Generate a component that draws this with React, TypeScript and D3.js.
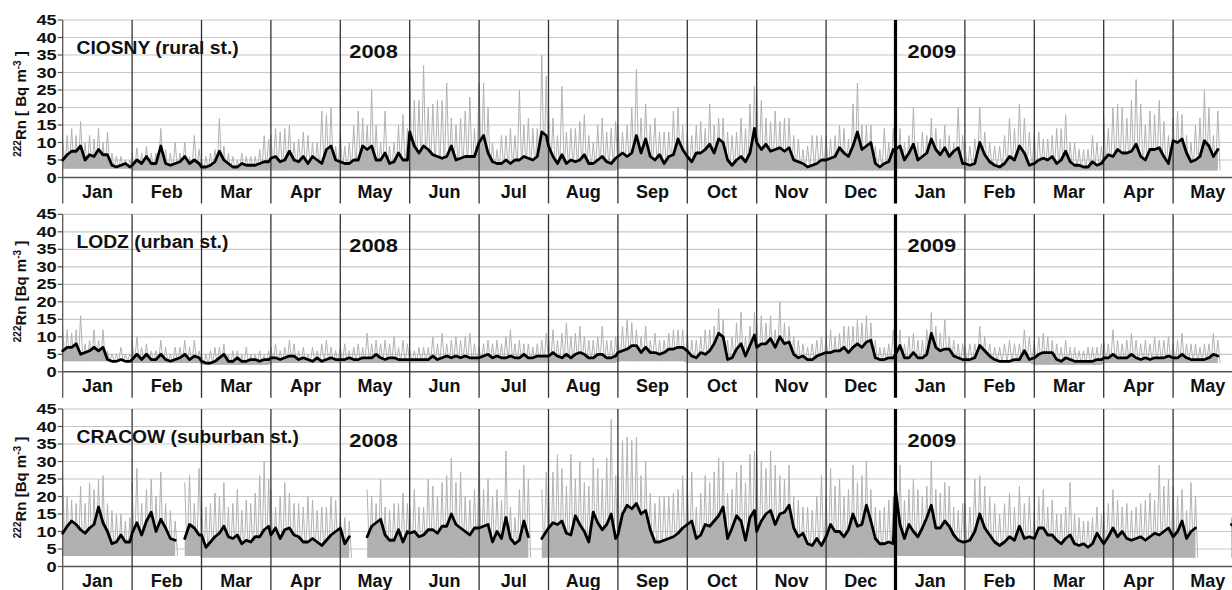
import React from 'react';
import * as d3 from 'd3';

type N = number | null;

// ---------- labels ----------
const monthLabels = ['Jan', 'Feb', 'Mar', 'Apr', 'May', 'Jun', 'Jul', 'Aug', 'Sep', 'Oct', 'Nov', 'Dec', 'Jan', 'Feb', 'Mar', 'Apr', 'May'];
const yTicks = [0, 5, 10, 15, 20, 25, 30, 35, 40, 45];
const stationNames = ['CIOSNY (rural st.)', 'LODZ (urban st.)', 'CRACOW (suburban st.)'];
const yearLabels = ['2008', '2009'];

// ---------- data: one row per month (Jan 2008 .. May 2009), samples every 2nd day (1,3,5,...) ----------
// CIOSNY daily mean (black) and hourly maxima (grey)
const ciosnyMean: N[][] = [
  [5, 6.5, 7.5, 7.5, 9, 5, 6.5, 6, 8, 6.5, 6.5, 3.5, 3, 3.5, 4, 3],
  [3.5, 5, 4, 6, 4, 4, 9, 4, 3.5, 4, 4.5, 6, 4, 5, 4],
  [3, 3, 3.5, 4.5, 7.5, 5, 4, 3, 3, 4, 3.5, 3.5, 3.5, 4, 4.5, 4.5],
  [5.5, 6, 4.5, 5, 7.5, 5, 4.5, 6, 4, 6, 5, 4, 8, 9, 5],
  [4.5, 4, 4, 5, 5, 9, 8, 9, 5, 5, 7, 4, 4.5, 7, 5, 5],
  [13, 9, 7, 9, 8, 6.5, 6, 5.5, 6, 9, 5, 5.5, 6, 6, 6],
  [10, 12, 7, 4.5, 4, 4, 5, 4, 5, 5, 6, 5.5, 5, 6, 13, 12],
  [9, 6, 4, 6.5, 4, 5, 4.5, 5, 6.5, 4, 4, 5, 6, 4.5, 4, 5.5],
  [6, 7, 6, 7, 12, 7, 11, 6, 5, 6.5, 4, 6, 6.5, 11, 8],
  [6, 4.5, 7, 7, 8, 9.5, 7, 11, 10, 5, 3.5, 5, 6, 4.5, 7, 14],
  [10, 8, 9.5, 7.5, 8, 8.5, 7.5, 8.5, 5, 4.5, 4, 3, 3.5, 4, 5],
  [5, 5.5, 6, 8.5, 7, 6, 9, 13, 8, 9, 10, 4, 3, 4, 4.5, 8],
  [8, 9, 5, 7, 9.5, 5, 6, 7, 11, 8, 6.5, 8.5, 6, 7.5, 8.5, 4],
  [4, 3.5, 4, 10, 6.5, 4.5, 3.5, 3, 4, 6, 5, 9, 7, 3.5],
  [4, 5, 5.5, 5, 6, 4, 5, 7.5, 4.5, 3.5, 3.5, 3, 3, 4.5, 3.5, 4],
  [5, 6.5, 6, 8, 7, 7, 7.5, 9.5, 6, 5, 8, 8, 8.5, 6, 4],
  [10.5, 10, 11, 7, 4.5, 5, 6, 10.5, 9, 6, 8],
];
const ciosnyMax: N[][] = [
  [11, 12, 14, 12, 16, 10, 12, 11, 14, 10, 13, 7, 6, 6, 5, 5],
  [7, 8.5, 7, 9, 7, 7, 14, 8, 7, 10, 7, 10, 6, 12, 8],
  [5, 6, 7, 8, 17, 9, 7, 6, 5, 7, 6, 6, 6, 8, 12, 11],
  [12, 14, 13, 14, 15, 10, 11, 13, 12, 10, 10, 19, 18, 20, 9],
  [13, 9, 10, 15, 19, 17, 15, 25, 15, 10, 19, 9, 10, 15, 18, 14],
  [31, 22, 22, 32, 20, 21, 22, 22, 27, 17, 15, 17, 19, 23, 14],
  [27, 27, 20, 10, 8, 12, 12, 14, 12, 25, 15, 17, 14, 14, 35, 29],
  [20, 17, 12, 26, 13, 14, 14, 16, 18, 12, 10, 15, 17, 13, 14, 16],
  [15, 13, 15, 20, 31, 17, 21, 15, 17, 13, 13, 13, 19, 20, 15],
  [13, 12, 15, 16, 14, 21, 15, 17, 17, 13, 12, 13, 17, 14, 21, 26],
  [25, 22, 17, 16, 19, 16, 17, 17, 12, 11, 8, 9, 12, 12, 12],
  [12, 11, 12, 15, 14, 11, 21, 27, 15, 15, 15, 9, 8, 14, 10, 14],
  [15, 14, 10, 12, 20, 10, 13, 12, 17, 14, 11, 15, 12, 10, 20, 12],
  [10, 9, 11, 20, 13, 10, 9, 9, 12, 17, 14, 21, 17, 13],
  [12, 13, 11, 11, 12, 14, 14, 18, 10, 10, 8, 8, 8, 12, 10, 9],
  [17, 14, 20, 21, 20, 17, 22, 28, 21, 15, 19, 18, 22, 16, 12],
  [17, 19, 18, 12, 10, 15, 17, 25, 20, 12, 19],
];
const ciosnyLow = [2.5, 2, 2, 2, 2, 2, 2, 2, 2.5, 2, 2, 2, 2.5, 2, 2, 2, 2];

// LODZ
const lodzMean: N[][] = [
  [6, 7, 7, 8, 5, 5.5, 6, 7, 6, 7, 3.5, 3, 3, 3.5, 3, 3],
  [3.5, 5, 3.5, 5, 3.5, 3.5, 5, 3.5, 3, 3.5, 4, 5, 3.5, 4.5, 4],
  [3, 2.5, 2.5, 3, 4, 5, 3, 3, 4, 3, 3, 3.5, 3.5, 3, 3.5, 3.5],
  [4, 4, 3.5, 4, 4.5, 4.5, 3.5, 4, 3.5, 3, 4, 3, 3.5, 4, 3.5],
  [3.5, 3.5, 4, 3.5, 3.5, 4, 4, 4, 5, 4, 3.5, 4, 4, 3.5, 3.5, 3.5],
  [3.5, 3.5, 3.5, 3.5, 3.5, 4.5, 3.5, 4, 4.5, 4, 4.5, 4, 4.5, 4, 4],
  [4, 4.5, 5, 4, 4.5, 4, 4, 4.5, 4, 4, 5, 4, 4, 4.5, 4.5, 4.5],
  [4.5, 5.5, 4.5, 4, 5, 4, 5, 5.5, 5, 4, 4, 5, 5, 4, 4, 4.5],
  [5.5, 6, 6.5, 7.5, 7.5, 5.5, 7, 5.5, 5.5, 5, 5.5, 6.5, 6.5, 7, 7],
  [6, 4.5, 4, 5.5, 5, 6, 8, 11, 10, 3.5, 4, 6.5, 8, 4.5, 7.5, 10.5],
  [7, 8, 8, 9.5, 7, 10, 8, 8.5, 5, 4, 4.5, 3.5, 3.5, 4.5, 5],
  [5.5, 5.5, 6, 6, 7, 5.5, 7, 8, 7, 8.5, 9, 4, 3.5, 3.5, 4, 4],
  [5, 7.5, 4, 4, 5.5, 4, 4, 5, 11, 7, 6, 6.5, 6.5, 4.5, 4, 3.5],
  [3.5, 3.5, 4, 7.5, 6, 4.5, 3.5, 3, 3, 3, 3.5, 3.5, 6, 3.5],
  [4, 5, 5.5, 5.5, 5.5, 3.5, 3, 4, 3.5, 3, 3, 3, 3, 3, 3.5, 3.5],
  [4, 4, 5, 4, 4, 4, 5, 4, 3.5, 4, 3.5, 4, 4, 4, 4.5],
  [4, 4, 5, 4, 3.5, 3.5, 3.5, 3.5, 4, 5, 4.5],
];
const lodzMax: N[][] = [
  [12, 12, 11, 12, 16, 8, 9, 12, 9, 12, 6, 5, 5, 7, 5, 5],
  [9, 10, 7, 8, 6, 6, 9, 7, 5, 7, 7, 9, 7, 9, 6],
  [5, 5, 6, 7, 7, 8, 5, 6, 6, 5, 7, 5, 5, 6, 5, 6],
  [7, 8, 6, 7, 9, 8, 6, 7, 5, 7, 6, 8, 9, 7, 6],
  [7, 8, 6, 7, 8, 7, 11, 8, 9, 8, 9, 8, 10, 7, 9, 8],
  [6, 6, 7, 7, 7, 10, 8, 11, 8, 9, 10, 9, 10, 11, 8],
  [7, 8, 9, 8, 9, 8, 10, 12, 8, 9, 8, 8, 7, 8, 9, 11],
  [10, 12, 9, 11, 14, 10, 11, 13, 10, 9, 9, 10, 13, 9, 9, 10],
  [10, 13, 15, 14, 12, 10, 13, 9, 11, 9, 9, 11, 12, 12, 12],
  [11, 9, 9, 10, 12, 12, 13, 18, 15, 9, 10, 14, 17, 10, 13, 17],
  [13, 16, 14, 16, 12, 20, 14, 13, 10, 9, 8, 7, 8, 9, 10],
  [10, 12, 10, 11, 13, 13, 13, 15, 14, 16, 14, 9, 7, 7, 8, 12],
  [13, 12, 8, 10, 11, 9, 9, 12, 17, 13, 11, 15, 10, 9, 8, 8],
  [7, 8, 8, 13, 10, 8, 7, 7, 8, 9, 8, 8, 12, 10],
  [9, 10, 11, 10, 9, 8, 7, 9, 7, 7, 6, 6, 7, 7, 7, 8],
  [9, 8, 12, 9, 8, 9, 11, 9, 8, 9, 8, 10, 9, 9, 10],
  [8, 9, 11, 8, 8, 8, 7, 8, 8, 11, 9],
];
const lodzLow = [3, 2.5, 2, 2.5, 2.5, 2.5, 2.5, 2.5, 3, 2.5, 2.5, 2.5, 2.5, 2.5, 2, 2.5, 2.5];

// CRACOW (gaps = missing data)
const cracowMean: N[][] = [
  [9.5, 11.5, 13, 12, 10.5, 9.5, 11, 12, 17, 12.5, 10, 6.5, 7, 9, 7, 7],
  [9.5, 12.5, 9, 13, 15.5, 10, 13.5, 11, 8, 7.5, null, 8, 12, 11, 9],
  [9, 5.5, 7, 8.5, 9.5, 11.5, 8.5, 8, 9, 6.5, 7.5, 7, 8.5, 8.5, 10.5, 11.5],
  [9, 11, 8, 10.5, 11, 9, 8.5, 7, 7, 8, 7, 6, 7.5, 9, 10],
  [11, 6.5, 8.5, null, null, null, 8.5, 11.5, 12.5, 13.5, 9, 7.5, 7.5, 10.5, 7, 10],
  [9.5, 10, 8.5, 9, 10.5, 10.5, 9.5, 11.5, 11.5, 15, 12, 11, 10, 9, 11],
  [11, 11.5, 12, 7, 10, 8, 14, 8, 6.5, 7.5, 13, 8.5, null, null, 8, 10],
  [11, 12.5, 12, 13, 9.5, 9, 14.5, 12, 10, 7, 15.5, 12.5, 10.5, 12, 15, 8],
  [9, 15, 17.5, 16.5, 18, 15, 16, 10.5, 7, 7, 7.5, 8, 8.5, 9.5, 11],
  [12, 13, 8, 9, 12, 11.5, 13, 14.5, 17, 8, 11, 14.5, 13, 7.5, 14, 16],
  [10, 13, 15, 16, 12, 15, 15.5, 17.5, 11, 8.5, 9.5, 6.5, 6, 8, 6],
  [8.5, 12, 10, 10, 8.5, 10.5, 15, 11.5, 12, 17.5, 13, 8, 6.5, 6.5, 7, 6.5],
  [22, 12, 8, 12, 10, 8.5, 11, 14, 17.5, 11, 11, 13, 11.5, 9, 7.5, 7],
  [7, 7.5, 10, 15, 11, 9, 7, 6, 7, 8.5, 7.5, 11.5, 8, 8.5],
  [8, 11, 11, 9, 9, 7.5, 6.5, 8, 9, 6.5, 6, 6.5, 5.5, 6.5, 9.5, 7.5],
  [6.5, 8.5, 11, 8.5, 10, 8, 7.5, 8, 8.5, 7.5, 8.5, 9.5, 9, 10, 11],
  [8.5, 10, 13, 8, 10, 11, null, null, null, null, null, null, null, 12, 11],
];
const cracowMax: N[][] = [
  [26, 20, 19, 18, 23, 18, 24, 22, 25, 26, 18, 16, 15, 15, 13, 14],
  [24, 28, 18, 22, 25, 20, 27, 18, 16, 13, null, 24, 26, 18, 28],
  [20, 17, 18, 21, 20, 24, 17, 18, 22, 16, 19, 18, 21, 26, 30, 25],
  [22, 17, 20, 24, 21, 18, 18, 17, 20, 19, 16, 17, 17, 20, 19],
  [15, 14, 13, null, null, null, 22, 20, 18, 25, 17, 16, 18, 18, 21, 18],
  [17, 22, 17, 17, 25, 23, 20, 24, 26, 31, 24, 27, 20, 19, 22],
  [30, 22, 25, 20, 22, 19, 33, 17, 14, 22, 29, 25, null, null, 22, 27],
  [23, 27, 32, 28, 23, 32, 25, 30, 24, 23, 31, 28, 25, 31, 42, 26],
  [26, 36, 37, 36, 37, 26, 30, 21, 18, 20, 20, 20, 21, 22, 26],
  [25, 27, 17, 21, 26, 24, 27, 31, 30, 21, 22, 27, 29, 24, 32, 33],
  [32, 30, 28, 33, 29, 26, 25, 29, 20, 19, 17, 17, 16, 20, 26],
  [20, 28, 23, 25, 20, 22, 29, 24, 26, 30, 22, 17, 16, 17, 19, 20],
  [30, 29, 19, 22, 25, 22, 20, 23, 30, 22, 21, 24, 23, 17, 16, 18],
  [18, 17, 25, 26, 23, 20, 18, 15, 18, 21, 17, 23, 18, 20],
  [16, 20, 22, 17, 19, 15, 15, 17, 24, 15, 14, 13, 13, 14, 17, 15],
  [16, 18, 22, 19, 17, 18, 16, 17, 18, 19, 21, 19, 29, 23, 25],
  [23, 20, 22, 16, 24, 20, null, null, null, null, null, null, null, 14, 13],
];
const cracowLow = [3, 3, 2.5, 2.5, 2.5, 2.5, 2.5, 2.5, 2.5, 2.5, 2.5, 2.5, 3, 2.5, 2.5, 2.5, 2.5];

// ---------- layout ----------
const W = 1232;
const H = 590;
const X0 = 62.7;
const MW = 69.4;
const PANEL_TOPS = [20, 214.3, 409];
const PH = 157.5;
const TITLE_CY = [104, 291.5, 487.5];
const FONT = '"Liberation Sans", Arial, Helvetica, sans-serif';

const monthStarts = d3.timeMonth.range(new Date(2008, 0, 1), new Date(2009, 6, 1));
const x = d3.scaleTime<number>()
  .domain(monthStarts)
  .range(monthStarts.map((_, i) => X0 + i * MW));

interface Sample { date: Date; next: Date; mean: N; max: N; low: number; }

function buildSamples(mean: N[][], max: N[][], low: number[]): Sample[] {
  const out: Sample[] = [];
  mean.forEach((row, m) => {
    row.forEach((v, k) => {
      out.push({
        date: new Date(2008, m, 1 + 2 * k),
        next: new Date(2008, m, 2 + 2 * k),
        mean: v,
        max: max[m][k],
        low: low[m],
      });
    });
  });
  return out;
}

const panels = [
  { name: stationNames[0], samples: buildSamples(ciosnyMean, ciosnyMax, ciosnyLow), unit: '[ Bq m' },
  { name: stationNames[1], samples: buildSamples(lodzMean, lodzMax, lodzLow), unit: '[Bq m' },
  { name: stationNames[2], samples: buildSamples(cracowMean, cracowMax, cracowLow), unit: '[Bq m' },
];

function Panel({ idx }: { idx: number }) {
  const p = panels[idx];
  const top = PANEL_TOPS[idx];
  const bottom = top + PH;
  const y = d3.scaleLinear().domain([0, 45]).range([bottom, top]);

  const area = d3.area<Sample>()
    .defined((d) => d.mean != null)
    .x((d) => x(d.date))
    .y0((d) => y(d.low))
    .y1((d) => y(d.mean as number));

  type ZP = { d: Date; v: number; ok: boolean };
  const zig: ZP[] = [];
  p.samples.forEach((s) => {
    if (s.max == null) {
      zig.push({ d: s.date, v: 0, ok: false });
    } else {
      zig.push({ d: s.date, v: s.max, ok: true });
      zig.push({ d: s.next, v: s.low, ok: true });
    }
  });
  const zigLine = d3.line<ZP>().defined((d) => d.ok).x((d) => x(d.d)).y((d) => y(d.v));

  const meanLine = d3.line<Sample>()
    .defined((d) => d.mean != null)
    .x((d) => x(d.date))
    .y((d) => y(d.mean as number));

  const lineBottom = bottom + 26;
  const year08x = x(new Date(2008, 4, 1)) + 9;
  const year09x = x(new Date(2009, 0, 1)) + 12;

  return (
    <g>
      {/* horizontal grid */}
      {yTicks.map((t) => (
        <line key={'g' + t} x1={X0} x2={W} y1={y(t)} y2={y(t)}
          stroke={t === 0 ? '#555' : '#c8c8c8'} strokeWidth={t === 0 ? 1.5 : 1.2} />
      ))}
      {/* hourly (grey) */}
      <path d={area(p.samples) || ''} fill="#b0b0b0" stroke="none" />
      <path d={zigLine(zig) || ''} fill="none" stroke="#b2b2b2" strokeWidth={1} />
      {/* month separators */}
      {monthStarts.slice(1, 17).map((d, i) => {
        const isYear = d.getMonth() === 0;
        return (
          <line key={'m' + i} x1={x(d)} x2={x(d)} y1={top} y2={lineBottom}
            stroke={isYear ? '#000' : '#333'} strokeWidth={isYear ? 3.2 : 1.3} />
        );
      })}
      {/* y axis */}
      <line x1={X0} x2={X0} y1={top} y2={lineBottom} stroke="#555" strokeWidth={1.3} />
      {yTicks.map((t) => (
        <g key={'t' + t}>
          <line x1={X0 - 5} x2={X0} y1={y(t)} y2={y(t)} stroke="#555" strokeWidth={1.2} />
          <text transform={`translate(${X0 - 6},${y(t) + 5}) scale(1.3,1)`} textAnchor="end"
            fontFamily={FONT} fontWeight="bold" fontSize={14} fill="#111">{t}</text>
        </g>
      ))}
      {/* daily mean (black) */}
      <path d={meanLine(p.samples) || ''} fill="none" stroke="#000" strokeWidth={2.8}
        strokeLinejoin="round" strokeLinecap="round" />
      {/* month labels */}
      {monthLabels.map((m, i) => (
        <text key={'l' + i} x={x(monthStarts[i]) + MW / 2} y={bottom + 20} textAnchor="middle"
          fontFamily={FONT} fontWeight="bold" fontSize={18} fill="#111">{m}</text>
      ))}
      {/* station & years */}
      <text transform={`translate(76.5,${top + 34}) scale(1.07,1)`} fontFamily={FONT}
        fontWeight="bold" fontSize={18} fill="#111">{p.name}</text>
      <text transform={`translate(${year08x},${top + 37.5}) scale(1.15,1)`} fontFamily={FONT}
        fontWeight="bold" fontSize={19} fill="#111">{yearLabels[0]}</text>
      <text transform={`translate(${year09x},${top + 37.5}) scale(1.15,1)`} fontFamily={FONT}
        fontWeight="bold" fontSize={19} fill="#111">{yearLabels[1]}</text>
      {/* y title */}
      <text transform={`translate(26,${TITLE_CY[idx]}) rotate(-90)`} textAnchor="middle"
        fontFamily={FONT} fontWeight="bold" fontSize={15} fill="#111">
        <tspan fontSize={10} dy={-5}>222</tspan>
        <tspan dy={5}>{'Rn ' + p.unit}</tspan>
        <tspan fontSize={10} dy={-5}>-3</tspan>
        <tspan dy={5}>{' ]'}</tspan>
      </text>
    </g>
  );
}

export default function App() {
  return (
    <svg width={W} height={H} viewBox={`0 0 ${W} ${H}`}
      style={{ position: 'absolute', left: 0, top: 0, display: 'block', background: '#fff' }}>
      <rect x={0} y={0} width={W} height={H} fill="#fff" />
      <Panel idx={0} />
      <Panel idx={1} />
      <Panel idx={2} />
    </svg>
  );
}
